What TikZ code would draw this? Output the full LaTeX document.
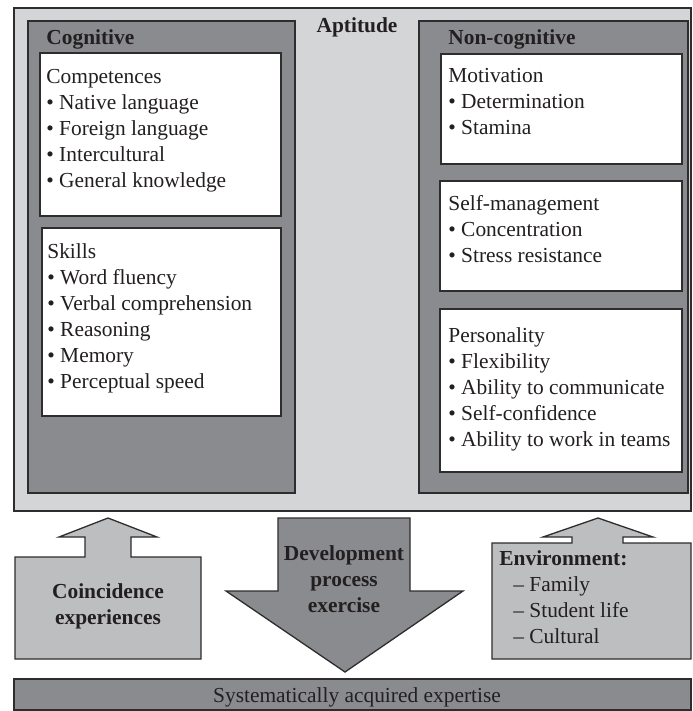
\documentclass[tikz,border=0pt]{standalone}
\usepackage{fontspec}
\setmainfont{Liberation Serif}
\definecolor{apLight}{HTML}{D4D5D7}
\definecolor{apDark}{HTML}{8A8B8E}
\definecolor{apMid}{HTML}{BDBEC0}
\definecolor{apLine}{HTML}{2E2C2D}
\definecolor{apText}{HTML}{231F20}
\usetikzlibrary{positioning}
\tikzset{
  panel/.style={draw=apLine, line width=0.65pt},
  txt/.style={inner sep=0pt, text=apText, align=left,
    font=\fontsize{10.7}{13}\selectfont},
  head/.style={txt, font=\fontsize{10.7}{13}\selectfont\bfseries}
}
\begin{document}
\begin{tikzpicture}[x=0.5pt,y=-0.5pt]
  \useasboundingbox (0,0) rectangle (692,711);

  % Aptitude frame
  \draw[panel, fill=apLight] (14,8) rectangle (691,511);
  \node[head, anchor=base] (aptitude) at (357,33) {Aptitude};

  % Cognitive column
  \draw[panel, fill=apDark] (28,21) rectangle (295,493);
  \node[head, anchor=base west] (cog) at (46,45) {Cognitive};
  \draw[panel, fill=white] (40,53) rectangle (281,216);
  \node[txt, anchor=north west] (competences) at (46,65)
    {\strut Competences\\\textbullet\ Native language\\\textbullet\ Foreign language\\
     \textbullet\ Intercultural\\\textbullet\ General knowledge};
  \draw[panel, fill=white] (42,228) rectangle (281,416);
  \node[txt, anchor=north west] (skills) at (47,240)
    {\strut Skills\\\textbullet\ Word fluency\\\textbullet\ Verbal comprehension\\
     \textbullet\ Reasoning\\\textbullet\ Memory\\\textbullet\ Perceptual speed};

  % Non-cognitive column
  \draw[panel, fill=apDark] (419,21) rectangle (688,493);
  \node[head, anchor=base west] (noncog) at (448,45) {Non-cognitive};
  \draw[panel, fill=white] (441,54) rectangle (682,164);
  \node[txt, anchor=north west] (motivation) at (448,64)
    {\strut Motivation\\\textbullet\ Determination\\\textbullet\ Stamina};
  \draw[panel, fill=white] (440,181) rectangle (682,291);
  \node[txt, anchor=north west] (selfmgmt) at (448,192)
    {\strut Self-management\\\textbullet\ Concentration\\\textbullet\ Stress resistance};
  \draw[panel, fill=white] (440,309) rectangle (682,472);
  \node[txt, anchor=north west] (personality) at (448,324)
    {\strut Personality\\\textbullet\ Flexibility\\\textbullet\ Ability to communicate\\
     \textbullet\ Self-confidence\\\textbullet\ Ability to work in teams};

  % Coincidence experiences (up)
  \draw[panel, fill=apMid] (15,659) -- (15,557) -- (85,557) -- (85,537) -- (59,537)
    -- (108,518) -- (157,537) -- (131,537) -- (131,557) -- (201,557) -- (201,659) -- cycle;
  \node[head, anchor=north, align=center] (coincidence) at (108,580)
    {\strut Coincidence\\experiences};

  % Development process (down)
  \draw[panel, fill=apDark] (278,518) -- (410,518) -- (410,591) -- (463,591)
    -- (345,672) -- (226,591) -- (278,591) -- cycle;
  \node[head, anchor=north, align=center] (development) at (344,542)
    {\strut Development\\process\\exercise};

  % Environment (up)
  \draw[panel, fill=apMid] (492,659) -- (492,543) -- (572,543) -- (572,537) -- (543,537)
    -- (598,518) -- (653,537) -- (623,537) -- (623,543) -- (691,543) -- (691,659) -- cycle;
  \node[txt, anchor=north west] (environment) at (499,547)
    {\strut\textbf{Environment:}\\\hspace{7pt}– Family\\\hspace{7pt}– Student life\\
     \hspace{7pt}– Cultural};

  % Expertise bar
  \draw[panel, fill=apDark] (14,679) rectangle (691,710);
  \node[txt, anchor=base] (expertise) at (357,702) {Systematically acquired expertise};
\end{tikzpicture}
\end{document}
